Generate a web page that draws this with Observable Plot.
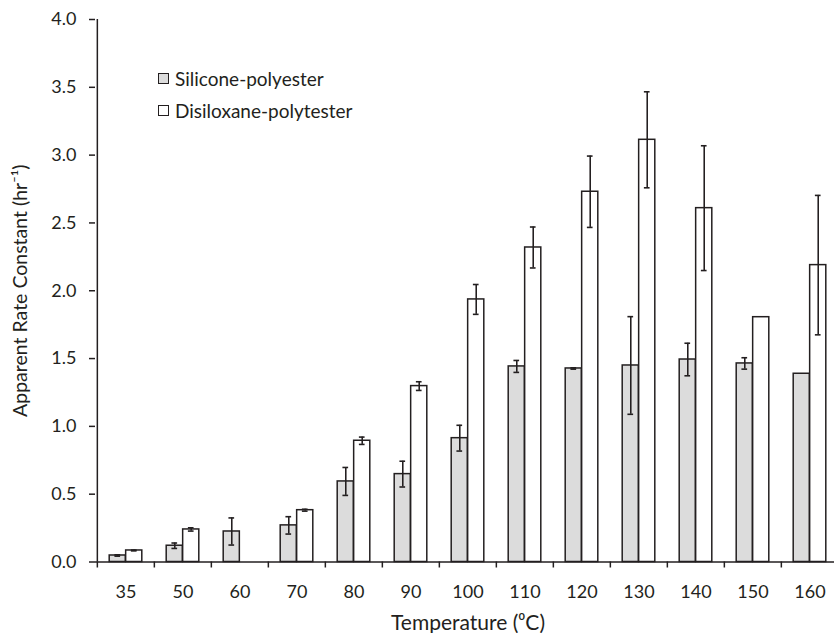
<!DOCTYPE html>
<html>
<head>
<meta charset="utf-8">
<script src="https://cdn.jsdelivr.net/npm/d3@7"></script>
<script src="https://cdn.jsdelivr.net/npm/@observablehq/plot@0.6"></script>
<style>
  html, body { margin: 0; padding: 0; background: #fff; overflow: hidden; }
  #wrap { position: relative; width: 834px; height: 633px; }
  #legend { position: absolute; left: 158px; top: 62px; font-family: Lato, "Open Sans", sans-serif; font-size: 19px; color: #231f20; }
  #legend .row { display: flex; align-items: center; height: 32px; }
  #legend .sw { width: 9px; height: 9px; border: 1.3px solid #231f20; margin-right: 6px; }
</style>
</head>
<body>
<div id="wrap">
  <div id="chart"></div>
  <div id="legend"></div>
</div>
<script>
const temps = ["35", "50", "60", "70", "80", "90", "100", "110", "120", "130", "140", "150", "160"];
const seriesNames = ["Silicone-polyester", "Disiloxane-polytester"];
const silicone = [0.048, 0.12, 0.225, 0.27, 0.594, 0.648, 0.913, 1.442, 1.427, 1.449, 1.493, 1.464, 1.388];
const siliconeErr = [0.005, 0.02, 0.10, 0.064, 0.103, 0.095, 0.095, 0.044, 0.005, 0.36, 0.12, 0.042, null];
const disiloxane = [0.085, 0.24, null, 0.382, 0.894, 1.297, 1.936, 2.319, 2.730, 3.113, 2.609, 1.805, 2.189];
const disiloxaneErr = [0.003, 0.012, null, 0.007, 0.027, 0.032, 0.11, 0.151, 0.263, 0.354, 0.46, null, 0.514];
const yTicks = [0, 0.5, 1.0, 1.5, 2.0, 2.5, 3.0, 3.5, 4.0];
const fills = ["#dcdcdc", "#ffffff"];
const ink = "#231f20";

function rows(vals, errs) {
  return temps.map((t, i) => ({temp: t, value: vals[i], err: errs[i]})).filter(d => d.value != null);
}
const rowsS = rows(silicone, siliconeErr);
const rowsD = rows(disiloxane, disiloxaneErr);
const errS = rowsS.filter(d => d.err != null);
const errD = rowsD.filter(d => d.err != null);

const width = 834, height = 633;
const marginLeft = 95, marginRight = -6, marginTop = 19, marginBottom = 71.5;
const bw = (width - marginRight - marginLeft) / temps.length;
const outer = 12.2, half = (bw - 2 * outer) / 2, cap = 3;

const chart = Plot.plot({
  width, height, marginLeft, marginRight, marginTop, marginBottom,
  style: {fontFamily: "Lato, 'Open Sans', sans-serif", fontSize: "18px", color: ink, background: "white"},
  x: {type: "band", domain: temps, padding: 0, axis: null},
  y: {domain: [0, 4], axis: null},
  marks: [
    Plot.barY(rowsS, {x: "temp", y: "value", fill: fills[0], stroke: ink, strokeWidth: 1.5, insetLeft: outer, insetRight: outer + half}),
    Plot.barY(rowsD, {x: "temp", y: "value", fill: fills[1], stroke: ink, strokeWidth: 1.5, insetLeft: outer + half, insetRight: outer}),
    Plot.ruleX(errS, {x: "temp", y1: d => d.value - d.err, y2: d => d.value + d.err, dx: -half / 2, stroke: ink, strokeWidth: 1.6}),
    Plot.ruleX(errD, {x: "temp", y1: d => d.value - d.err, y2: d => d.value + d.err, dx: half / 2, stroke: ink, strokeWidth: 1.6}),
    Plot.tickY(errS, {x: "temp", y: d => d.value + d.err, insetLeft: outer + half / 2 - cap, insetRight: outer + half * 1.5 - cap, stroke: ink, strokeWidth: 1.6}),
    Plot.tickY(errS, {x: "temp", y: d => d.value - d.err, insetLeft: outer + half / 2 - cap, insetRight: outer + half * 1.5 - cap, stroke: ink, strokeWidth: 1.6}),
    Plot.tickY(errD, {x: "temp", y: d => d.value + d.err, insetLeft: outer + half * 1.5 - cap, insetRight: outer + half / 2 - cap, stroke: ink, strokeWidth: 1.6}),
    Plot.tickY(errD, {x: "temp", y: d => d.value - d.err, insetLeft: outer + half * 1.5 - cap, insetRight: outer + half / 2 - cap, stroke: ink, strokeWidth: 1.6}),
    Plot.ruleY([0], {stroke: ink, strokeWidth: 1.5}),
    Plot.ruleX([temps[0]], {x: d => d, dx: -bw / 2, stroke: ink, strokeWidth: 1.5}),
    Plot.axisX({tickSize: 0, tickPadding: 23, label: null, fill: ink, fontSize: 18}),
    Plot.axisX({tickSize: 6, tickFormat: () => "", dx: -bw / 2, label: null, stroke: ink, strokeWidth: 1.5}),
    Plot.axisY({ticks: yTicks, tickFormat: d3.format(".1f"), tickSize: 6, tickPadding: 13, label: null, fill: ink, stroke: ink, strokeWidth: 1.5, fontSize: 18}),
    Plot.text(["Apparent Rate Constant (hr\u207B\u00B9)"], {frameAnchor: "left", textAnchor: "middle", lineAnchor: "middle", dx: -75, rotate: -90, fontSize: 19.5, fill: ink}),
    Plot.text(["Temperature (\u2070C)"], {frameAnchor: "bottom", textAnchor: "middle", lineAnchor: "middle", dy: 61, fontSize: 21, fill: ink})
  ]
});
document.getElementById("chart").appendChild(chart);

const legend = document.getElementById("legend");
seriesNames.forEach((name, i) => {
  const row = document.createElement("div");
  row.className = "row";
  const sw = document.createElement("div");
  sw.className = "sw";
  sw.style.background = fills[i];
  const label = document.createElement("span");
  label.textContent = name;
  row.appendChild(sw);
  row.appendChild(label);
  legend.appendChild(row);
});
</script>
</body>
</html>
